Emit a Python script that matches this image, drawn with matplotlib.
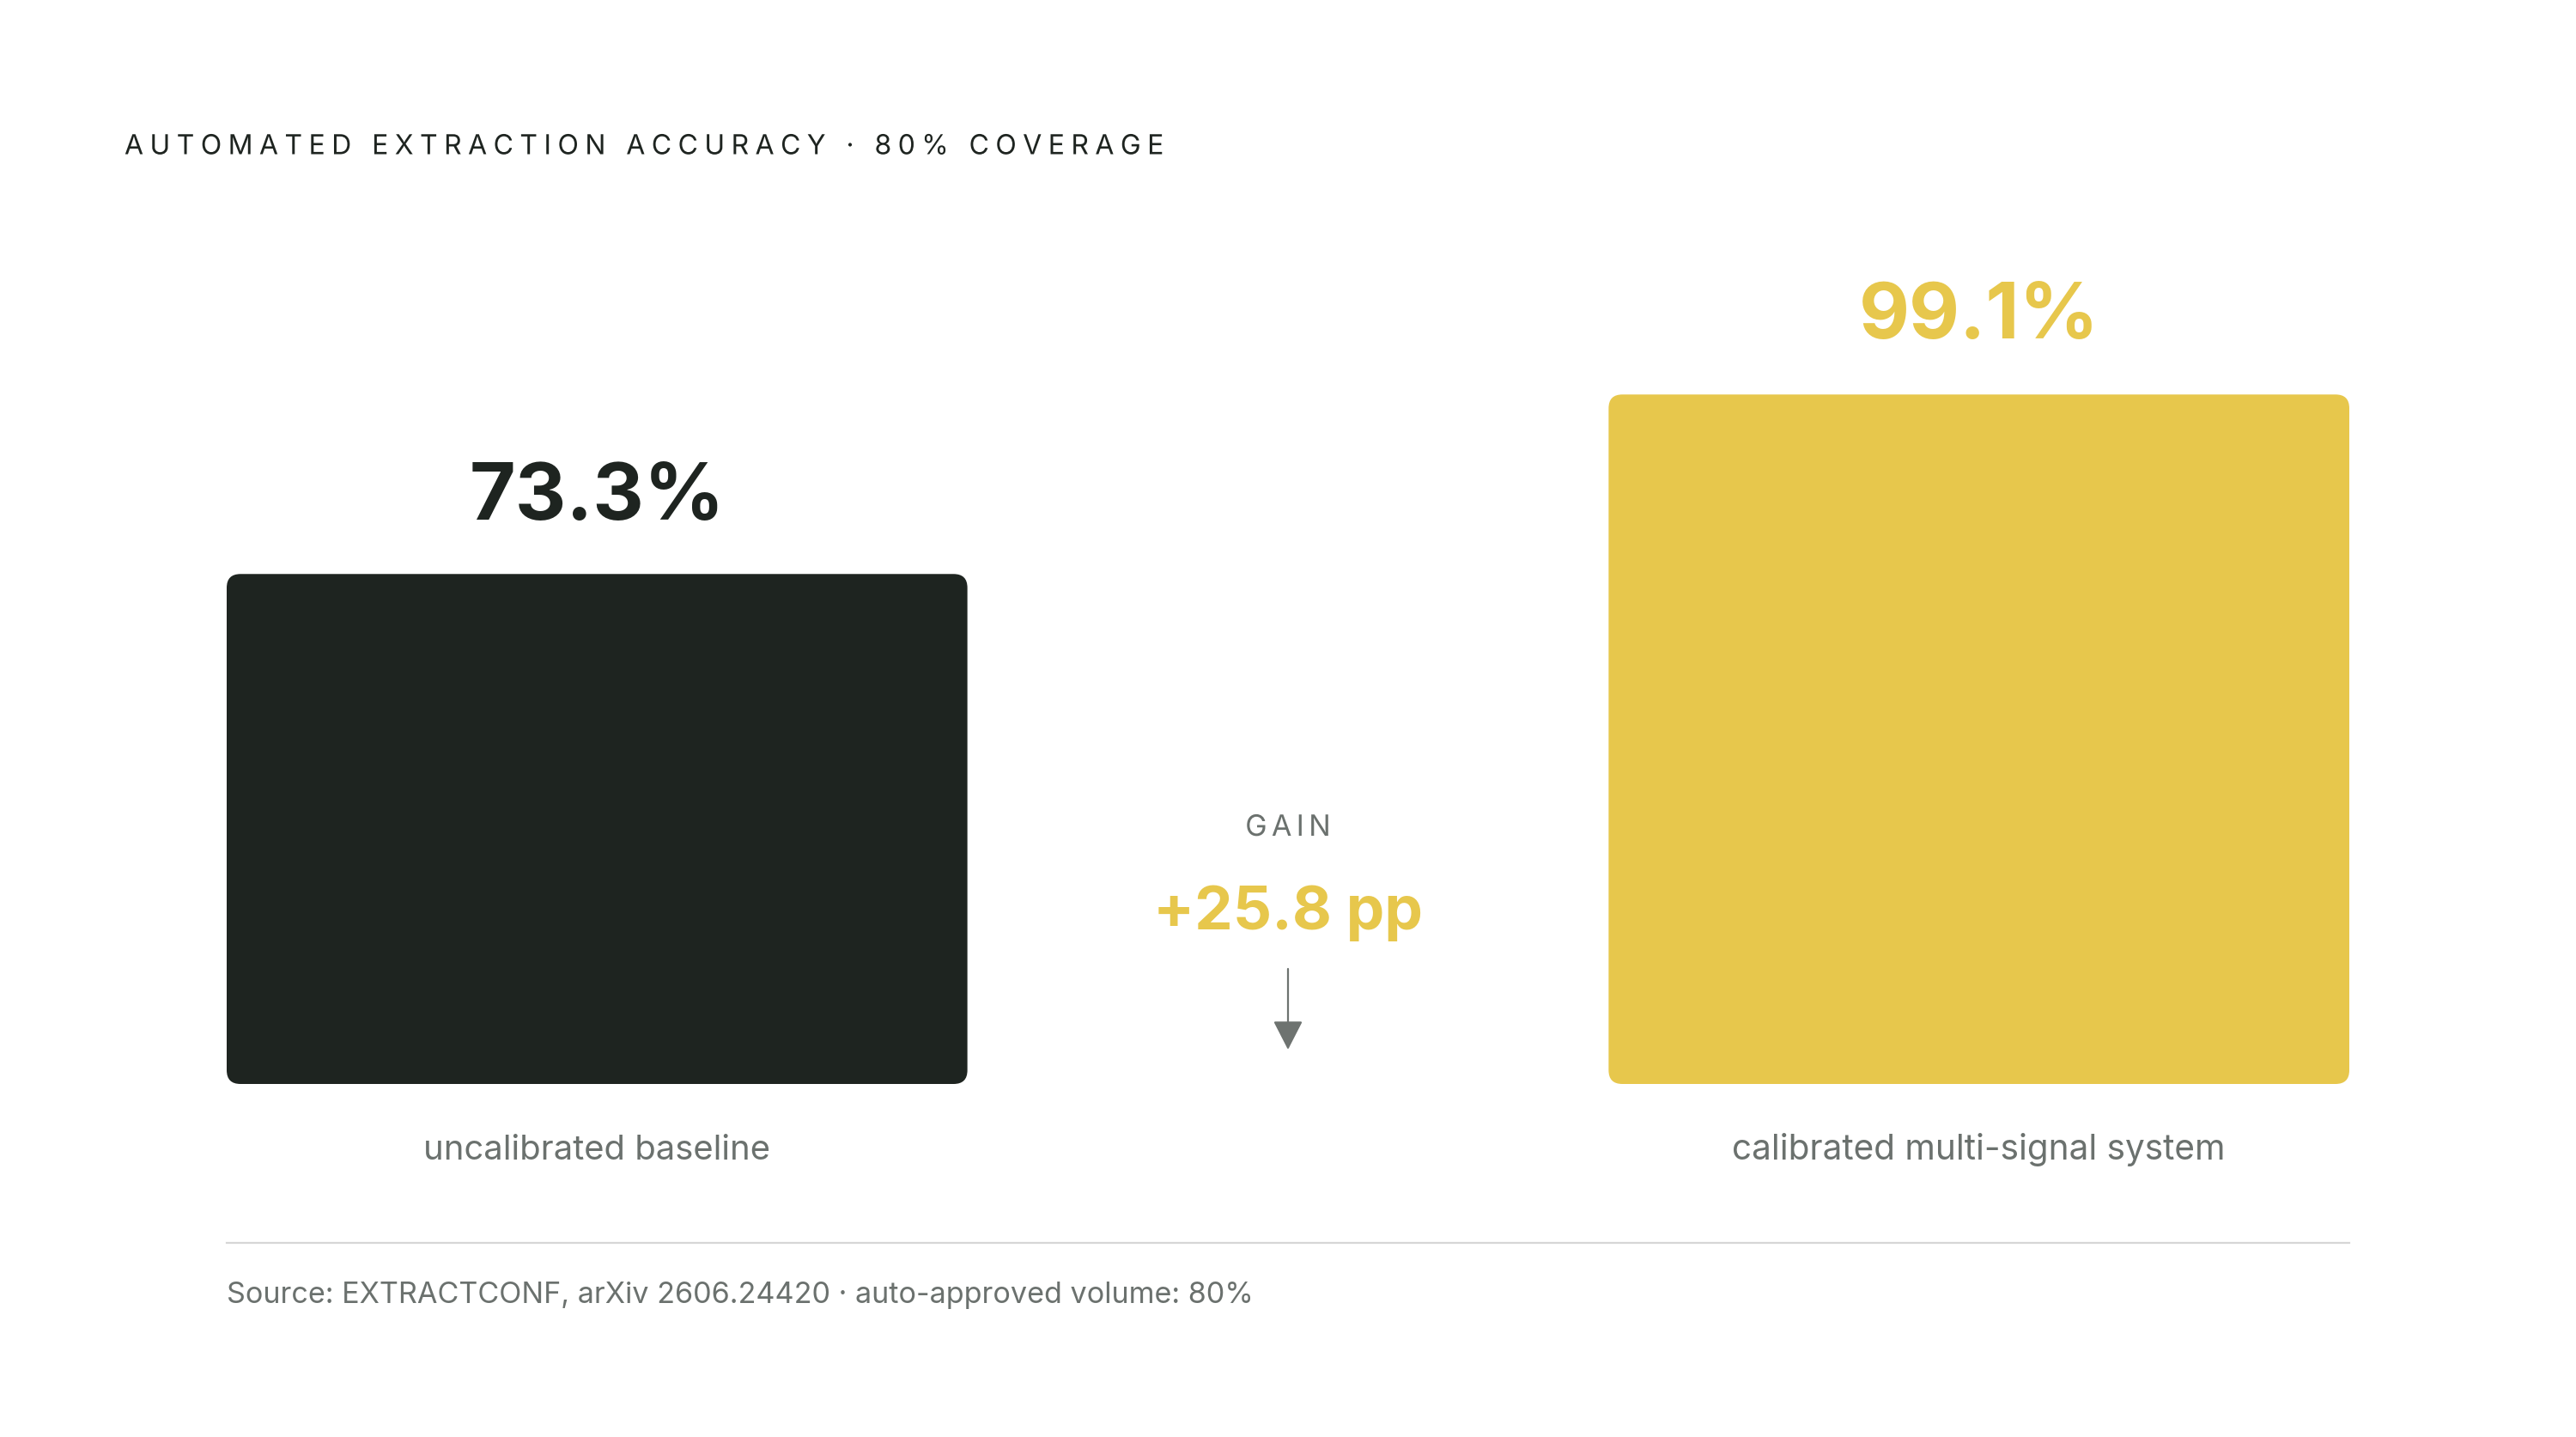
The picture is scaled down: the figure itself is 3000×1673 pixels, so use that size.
import numpy as np
import matplotlib
matplotlib.use("Agg")
import matplotlib.pyplot as plt
from matplotlib.patches import FancyBboxPatch, FancyArrowPatch
from matplotlib.patheffects import AbstractPathEffect
from matplotlib.path import Path
from matplotlib.transforms import IdentityTransform

# ---- data ----
categories = ["uncalibrated baseline", "calibrated multi-signal system"]
values = [73.3, 99.1]
value_labels = ["73.3%", "99.1%"]
gain_label = "+25.8 pp"
title = "AUTOMATED EXTRACTION ACCURACY · 80% COVERAGE"
source = "Source: EXTRACTCONF, arXiv 2606.24420 · auto-approved volume: 80%"

DARK = "#1e2420"
YELLOW = "#e7c74c"
GRAY = "#6b716e"
RULE = "#d6d6d6"

plt.rcParams['font.family'] = ['Inter', 'DejaVu Sans']


class LetterSpacing(AbstractPathEffect):
    """Spreads the glyphs of a text path apart (tracking), keeping the text real."""

    def __init__(self, spacing_px, space_gap_px, align="left"):
        super().__init__()
        self.s = spacing_px
        self.gap = space_gap_px
        self.align = align

    def draw_path(self, renderer, gc, tpath, affine, rgbFace=None):
        verts = affine.transform(tpath.vertices)
        codes = tpath.codes
        if codes is None or len(verts) == 0:
            renderer.draw_path(gc, tpath, affine, rgbFace)
            return
        starts = list(np.nonzero(codes == Path.MOVETO)[0]) + [len(codes)]
        contours = []
        for a, b in zip(starts[:-1], starts[1:]):
            xs = verts[a:b, 0]
            contours.append((xs.min(), xs.max(), a, b))
        order = sorted(range(len(contours)), key=lambda i: contours[i][0])
        step = -1
        cur_max = -np.inf
        shift_of = {}
        for i in order:
            x0, x1, a, b = contours[i]
            if x0 > cur_max - 0.5:
                gap = x0 - cur_max
                step += 1
                if step > 0 and gap > self.gap:
                    step += 1
                cur_max = x1
            else:
                cur_max = max(cur_max, x1)
            shift_of[i] = step
        total = step
        base = 0.0
        if self.align == "center":
            base = -total * self.s / 2
        new = verts.copy()
        for i, (x0, x1, a, b) in enumerate(contours):
            new[a:b, 0] += base + shift_of[i] * self.s
        renderer.draw_path(gc, Path(new, codes), IdentityTransform(), rgbFace)


W, H = 3000, 1674
fig = plt.figure(figsize=(W / 100, H / 100), dpi=100)
fig.patch.set_facecolor("white")


def fy(px):
    return 1 - px / H


def fx(px):
    return px / W


ax = fig.add_axes([fx(264), fy(1263), fx(2736) - fx(264), fy(453) - fy(1263)])
bw = 0.536
xs = list(range(len(values)))
bars = ax.bar(xs, values, width=bw, color=[DARK, YELLOW])
ax.set_xlim(-bw / 2, len(values) - 1 + bw / 2)
ax.set_ylim(0, 100)
ax.axis("off")

# replace bars with rounded versions
fig.canvas.draw()
px_per_x = (ax.transData.transform((1, 0))[0] - ax.transData.transform((0, 0))[0])
px_per_y = (ax.transData.transform((0, 1))[1] - ax.transData.transform((0, 0))[1])
r_px = 16
for b in bars:
    b.set_visible(False)
    p = FancyBboxPatch((b.get_x(), b.get_y()), b.get_width(), b.get_height(),
                       boxstyle=f"round,pad=0,rounding_size={r_px / px_per_x}",
                       mutation_aspect=px_per_x / px_per_y,
                       facecolor=b.get_facecolor(), edgecolor="none")
    ax.add_patch(p)

vcolors = [DARK, YELLOW]
vsizes = [66.5, 65.5]
voffs = [46, 47.5]
lsizes = [28.8, 29.2]
for x, v, lab, c in zip(xs, values, value_labels, vcolors):
    ax.annotate(lab, (x, v), xytext=(0, voffs[x]), textcoords="offset points",
                ha="center", va="baseline", fontsize=vsizes[x], fontweight="bold",
                color=c, annotation_clip=False)
    ax.annotate(categories[x], (x, 0), xytext=(0, -62.5), textcoords="offset points",
                ha="center", va="baseline", fontsize=lsizes[x], color=GRAY,
                annotation_clip=False)

# title (letter-spaced)
fig.text(fx(145), fy(172), title, ha="left", va="center", fontsize=23,
         color=DARK, path_effects=[LetterSpacing(7.45, 6.5, "left")])

# gain
fig.text(fx(1500), fy(965), "GAIN", ha="center", va="center", fontsize=24.5,
         color=GRAY, path_effects=[LetterSpacing(5.3, 7.0, "center")])
fig.text(fx(1500), fy(1082), gain_label, ha="center", va="baseline",
         fontsize=51, fontweight="bold", color=YELLOW)
arr = FancyArrowPatch((fx(1500), fy(1129)), (fx(1500), fy(1223)),
                      transform=fig.transFigure,
                      arrowstyle="-|>,head_length=1.5,head_width=0.77",
                      mutation_scale=14, color="#6e7370", lw=1.6,
                      shrinkA=0, shrinkB=0)
fig.add_artist(arr)

# rule and source
fig.add_artist(plt.Line2D([fx(264), fx(2736)], [fy(1448), fy(1448)],
                          transform=fig.transFigure, color=RULE, lw=1.6))
fig.text(fx(264), fy(1508), source, ha="left", va="center", fontsize=24.6,
         color=GRAY)

fig.savefig("out.png", dpi=100, facecolor="white")
